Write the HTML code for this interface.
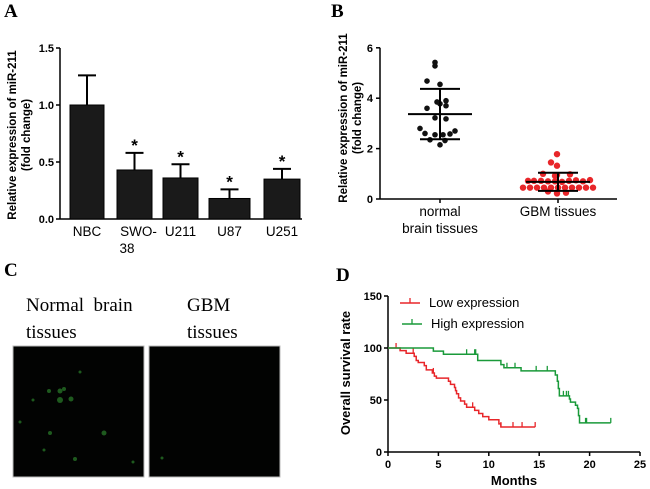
<!DOCTYPE html>
<html><head><meta charset="utf-8"><style>
html,body{margin:0;padding:0;background:#fff;}
svg{display:block;font-family:"Liberation Sans",Arial,sans-serif;}
.pl{font-family:"Liberation Serif",serif;font-weight:bold;font-size:19px;}
.tk{font-size:11px;font-weight:bold;}
.yt{font-size:11.5px;font-weight:bold;}
.cat{font-size:13.5px;}
</style></head><body>
<svg id="fig" width="650" height="489" viewBox="0 0 650 489">
<text class="pl" x="4" y="17">A</text>
<text class="pl" x="331" y="17">B</text>
<text class="pl" x="4" y="276">C</text>
<text class="pl" x="336" y="281">D</text>
<g id="A"></g>
<g id="B"></g>
<g id="C">
<text x="26" y="311" font-family="Liberation Serif,serif" font-size="19">Normal&#160;&#160;brain</text>
<text x="26" y="338" font-family="Liberation Serif,serif" font-size="19">tissues</text>
<text x="187" y="311" font-family="Liberation Serif,serif" font-size="19">GBM</text>
<text x="187" y="338" font-family="Liberation Serif,serif" font-size="19">tissues</text>
<rect x="13" y="346" width="131" height="131" fill="#020302" stroke="#bbb" stroke-width="1"/>
<rect x="149" y="346" width="131" height="131" fill="#020302" stroke="#bbb" stroke-width="1"/>
<g fill="#1e5a1e">
<circle cx="60" cy="391" r="2.5"/><circle cx="64" cy="389" r="2"/><circle cx="60" cy="400" r="3"/><circle cx="71" cy="399" r="2.5"/><circle cx="49" cy="391" r="2"/><circle cx="104" cy="433" r="2.5"/><circle cx="50" cy="433" r="2"/><circle cx="44" cy="450" r="1.5"/><circle cx="75" cy="459" r="2"/><circle cx="33" cy="400" r="1.5"/><circle cx="133" cy="462" r="1.5"/><circle cx="80" cy="372" r="1.5"/><circle cx="20" cy="422" r="1.5"/><circle cx="162" cy="458" r="1.5"/>
</g></g>
<g id="D"></g>
</svg>
<script>
const NS="http://www.w3.org/2000/svg";
function mk(p,t,a,txt){const e=document.createElementNS(NS,t);for(const k in a)e.setAttribute(k,a[k]);if(txt!==undefined)e.textContent=txt;p.appendChild(e);return e;}

// ---------- Panel A data ----------
const aCats=["NBC","SWO-","U211","U87","U251"];
const aMeans=[1.0,0.43,0.36,0.18,0.35];
const aErr=[0.26,0.15,0.12,0.08,0.09];
const aTicks=[0,0.5,1.0,1.5];
const aTickLabels=["0.0","0.5","1.0","1.5"];

// ---------- Panel B data ----------
const bNormal=[5.42,5.28,4.68,4.55,3.9,3.85,3.7,3.6,3.78,3.22,3.18,2.8,2.7,2.6,2.55,2.55,2.58,2.35,2.32,2.15];
const bNormalJit=[-5,-5,-13,0,6,-3,6,-13,0,-5,6,-20,15,-15,-5,3,10,-10,5,0];
const bGBM=[1.78,1.45,1.32,1.0,0.98,0.95,0.92,0.72,0.72,0.7,0.7,0.68,0.72,0.74,0.7,0.75,0.72,0.45,0.45,0.45,0.45,0.45,0.45,0.45,0.45,0.45,0.45,0.45,0.3,0.22,0.25];
const bGBMJit=[-1,-7,-1,-15,12,-1,-3,-24,-17,-10,-3,4,11,18,25,32,-30,-35,-28,-21,-14,-7,0,7,14,21,28,35,-10,-1,8];
const bTicks=[0,2,4,6];
const bMeans=[3.37,0.68];
const bSD=[1.0,0.36];

// ---------- Panel D data ----------
const lowT=[0,1.2,1.8,2.6,2.8,3.0,3.6,3.8,4.4,4.6,4.8,6.0,6.2,6.6,6.7,6.8,7.0,7.2,7.6,7.8,8.6,9.0,9.4,10.0,11.0,11.2,14.6];
const lowS=[100,97.5,95,92,88,86,83,79,76,73,71,68,65,62,59,56,52,49,46,43,40,37,34,31,27,24,24];
const lowCens=[0.8,2.5,4.5,8.4,11.2,12.4,13.3,14.6];
const highT=[0,4.5,5.5,8.9,11.2,11.5,13.2,16.6,16.8,16.9,17.0,18.0,18.1,18.6,18.8,18.9,19.0,22.1];
const highS=[100,97,94,88,84,81,78,74,68,61,54,51,48,45,42,35,28,28];
const highCens=[7.8,8.6,8.7,11.8,12.6,14.7,15.8,17.4,17.7,17.9,19.6,19.7,22.1];
const dXTicks=[0,5,10,15,20,25];
const dYTicks=[0,50,100,150];

// ---------- Panel A ----------
(function(){
const g=document.getElementById('A');
const y=v=>219-v*114.0;const x0=60;
const bx=[70,117,163,209,264],bw=[34,35,35,41,36];
mk(g,'line',{x1:x0,y1:y(1.5),x2:x0,y2:219,stroke:'#000','stroke-width':1.5});
mk(g,'line',{x1:x0,y1:219,x2:302,y2:219,stroke:'#000','stroke-width':1.5});
aTicks.forEach((t,i)=>{const l=mk(g,'line',{x1:x0-4,y1:y(t),x2:x0,y2:y(t),stroke:'#000','stroke-width':1.5});
 const tx=mk(g,'text',{x:x0-6,y:y(t)+4,'text-anchor':'end',class:'tk'},aTickLabels[i]);
 });
aMeans.forEach((m,i)=>{const cx=bx[i]+bw[i]/2;
 const e=mk(g,'line',{x1:cx,y1:y(m),x2:cx,y2:y(m+aErr[i]),stroke:'#000','stroke-width':2});
 mk(g,'line',{x1:cx-9,y1:y(m+aErr[i]),x2:cx+9,y2:y(m+aErr[i]),stroke:'#000','stroke-width':2});
 const r=mk(g,'rect',{x:bx[i],y:y(m),width:bw[i],height:219-y(m),fill:'#1a1a1a',stroke:'#000','stroke-width':1});
 
 if(i>0){const s=mk(g,'text',{x:cx,y:y(m+aErr[i])-2,'text-anchor':'middle','font-size':17,'font-weight':'bold'},'*');
  }
 const c=mk(g,'text',{x:cx+(i==1?4:0),y:236,'text-anchor':'middle',class:'cat'},aCats[i]);
 
});
const c2=mk(g,'text',{x:127,y:253,'text-anchor':'middle',class:'cat'},'38');

const t=mk(g,'text',{transform:'translate(16,135) rotate(-90)','text-anchor':'middle',class:'yt'},'Relative expression of miR-211');

const t2=mk(g,'text',{transform:'translate(30,135) rotate(-90)','text-anchor':'middle',class:'yt'},'(fold change)');

})();

// ---------- Panel B ----------
(function(){
const g=document.getElementById('B');
const y=v=>199-v*25.2;const x0=380,cx=[440,558];
mk(g,'line',{x1:x0,y1:y(6),x2:x0,y2:199,stroke:'#000','stroke-width':1.5});
mk(g,'line',{x1:x0,y1:199,x2:617,y2:199,stroke:'#000','stroke-width':1.5});
bTicks.forEach(t=>{mk(g,'line',{x1:x0-4,y1:y(t),x2:x0,y2:y(t),stroke:'#000','stroke-width':1.5});
 const tx=mk(g,'text',{x:x0-7,y:y(t)+4,'text-anchor':'end',class:'tk'},String(t));
 });
cx.forEach(c=>mk(g,'line',{x1:c,y1:199,x2:c,y2:203,stroke:'#000','stroke-width':1.5}));
bNormal.forEach((v,i)=>{const p=mk(g,'circle',{cx:cx[0]+bNormalJit[i],cy:y(v),r:2.8,fill:'#111'});
 });
bGBM.forEach((v,i)=>{const p=mk(g,'circle',{cx:cx[1]+bGBMJit[i],cy:y(v),r:3.2,fill:'#e8262a'});
 });
[0,1].forEach(k=>{const c=cx[k];
 mk(g,'line',{x1:c-32,y1:y(bMeans[k]),x2:c+32,y2:y(bMeans[k]),stroke:'#000','stroke-width':2});
 mk(g,'line',{x1:c-20,y1:y(bMeans[k]+bSD[k]),x2:c+20,y2:y(bMeans[k]+bSD[k]),stroke:'#000','stroke-width':2});
 mk(g,'line',{x1:c-20,y1:y(bMeans[k]-bSD[k]),x2:c+20,y2:y(bMeans[k]-bSD[k]),stroke:'#000','stroke-width':2});
 mk(g,'line',{x1:c,y1:y(bMeans[k]+bSD[k]),x2:c,y2:y(bMeans[k]-bSD[k]),stroke:'#000','stroke-width':2});
});
[['normal',440,216],['brain tissues',440,233],['GBM tissues',558,216]].forEach(a=>{
 const t=mk(g,'text',{x:a[1],y:a[2],'text-anchor':'middle',class:'cat'},a[0]);
 });
const t=mk(g,'text',{transform:'translate(347,118) rotate(-90)','text-anchor':'middle',class:'yt'},'Relative expression of miR-211');

const t2=mk(g,'text',{transform:'translate(361,118) rotate(-90)','text-anchor':'middle',class:'yt'},'(fold change)');

})();

// ---------- Panel D ----------
(function(){
const g=document.getElementById('D');
const x=v=>388+v*10.08,y=v=>452-v*1.04;
mk(g,'line',{x1:388,y1:y(150),x2:388,y2:452,stroke:'#000','stroke-width':1.5});
mk(g,'line',{x1:388,y1:452,x2:x(25),y2:452,stroke:'#000','stroke-width':1.5});
dYTicks.forEach(t=>{mk(g,'line',{x1:384,y1:y(t),x2:388,y2:y(t),stroke:'#000','stroke-width':1.5});
 const tx=mk(g,'text',{x:382,y:y(t)+4,'text-anchor':'end',class:'tk'},String(t));
 });
dXTicks.forEach(t=>{mk(g,'line',{x1:x(t),y1:452,x2:x(t),y2:456,stroke:'#000','stroke-width':1.5});
 const tx=mk(g,'text',{x:x(t),y:468,'text-anchor':'middle',class:'tk'},String(t));
 });
function curve(T,S,C,col,name){let d='M'+x(T[0])+','+y(S[0]);
 for(let i=1;i<T.length;i++){d+=' H'+x(T[i])+' V'+y(S[i]);}
 const p=mk(g,'path',{d:d,fill:'none',stroke:col,'stroke-width':1.5});
 
 C.forEach(c=>{let s=S[0];for(let i=0;i<T.length;i++){if(T[i]<=c)s=S[i];}
  const m=mk(g,'line',{x1:x(c),y1:y(s),x2:x(c),y2:y(s)-5,stroke:col,'stroke-width':1.3});
  });}
curve(lowT,lowS,lowCens,'#e8262a','low-expression-curve');
curve(highT,highS,highCens,'#1a9a3a','high-expression-curve');
const l1=mk(g,'g',{});
mk(l1,'line',{x1:400,y1:303,x2:420,y2:303,stroke:'#e8262a','stroke-width':1.5});
mk(l1,'line',{x1:410,y1:303,x2:410,y2:298,stroke:'#e8262a','stroke-width':1.3});
mk(l1,'text',{x:429,y:307,'font-size':13},'Low expression');
const l2=mk(g,'g',{});
mk(l2,'line',{x1:402,y1:324,x2:422,y2:324,stroke:'#1a9a3a','stroke-width':1.5});
mk(l2,'line',{x1:412,y1:324,x2:412,y2:319,stroke:'#1a9a3a','stroke-width':1.3});
mk(l2,'text',{x:431,y:328,'font-size':13},'High expression');
const xt=mk(g,'text',{x:x(12.5),y:485,'text-anchor':'middle','font-size':13,'font-weight':'bold'},'Months');

const yt=mk(g,'text',{transform:'translate(350,373) rotate(-90)','text-anchor':'middle','font-size':13,'font-weight':'bold'},'Overall survival rate');

})();
</script>
</body></html>
